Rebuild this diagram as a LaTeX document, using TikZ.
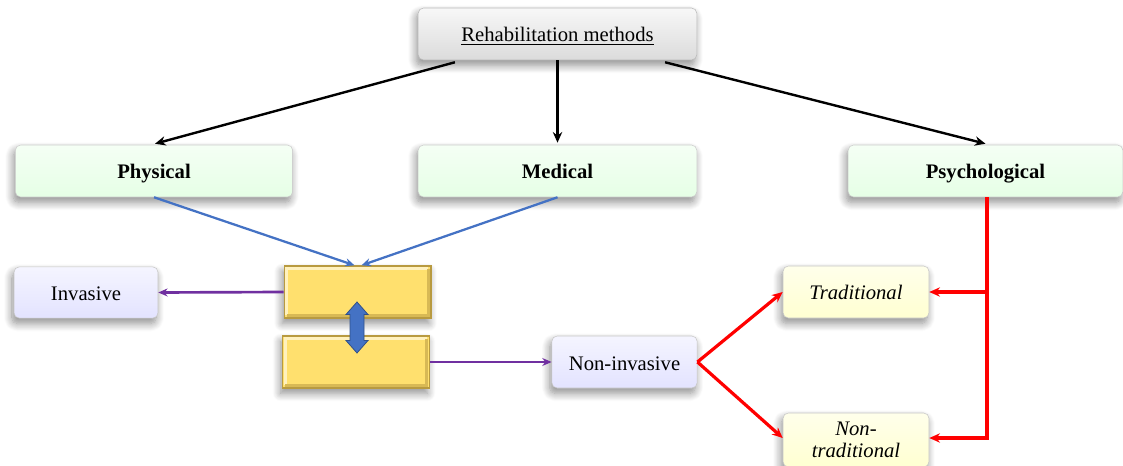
\documentclass[tikz,border=0pt]{standalone}
\usepackage{fontspec}
\setmainfont{Liberation Serif}
\usetikzlibrary{arrows.meta,shadows.blur,calc}
\definecolor{linkblue}{HTML}{4472C4}
\definecolor{linkpurple}{HTML}{7030A0}
\definecolor{linkred}{HTML}{FF0000}
\definecolor{goldfill}{HTML}{FFE06E}
\definecolor{goldedge}{HTML}{B89A40}
\tikzset{
  softshadow/.style={blur shadow={shadow xshift=-1.5pt, shadow yshift=-4pt, shadow blur steps=10, shadow blur radius=6pt, shadow opacity=45}},
  basebox/.style={rectangle, rounded corners=4pt, inner sep=2pt, align=center,
    font=\fontsize{15.5}{17}\selectfont, text=black, text height=13pt, text depth=1pt,
    softshadow},
  greybox/.style={basebox, draw=gray!55, top color=gray!6, bottom color=gray!28,
    minimum width=209pt, minimum height=39pt},
  greenbox/.style={basebox, draw=gray!40, top color=green!4!white, bottom color=green!10!white,
    minimum width=208pt, minimum height=39pt, font=\fontsize{15.5}{17}\selectfont\bfseries},
  lavbox/.style={basebox, draw=gray!45, top color=blue!4!white, bottom color=blue!11!white,
    minimum width=108pt, minimum height=38.5pt},
  creambox/.style={basebox, draw=gray!45, top color=yellow!8!white, bottom color=yellow!18!white,
    minimum width=109.5pt, minimum height=39pt, font=\fontsize{15.5}{17}\selectfont\itshape},
  goldbox/.style={rectangle, draw=goldedge, line width=1pt, fill=goldfill,
    minimum width=110pt, minimum height=39pt, softshadow,
    path picture={
      \draw[goldfill!45!white, line width=2.2pt]
        ([shift={(2pt,2pt)}]path picture bounding box.south west) |-
        ([shift={(-2pt,-2pt)}]path picture bounding box.north east);
      \draw[goldedge!55!goldfill, line width=2.2pt]
        ([shift={(2pt,2pt)}]path picture bounding box.south west) -|
        ([shift={(-2pt,-2pt)}]path picture bounding box.north east);
    }},
  blackarrow/.style={-{Stealth[length=8pt,width=7pt]}, line width=1.8pt, black},
  bluearrow/.style={-{Stealth[length=7pt,width=6pt]}, line width=1.7pt, linkblue},
  purplearrow/.style={-{Stealth[length=7pt,width=6pt]}, line width=2pt, linkpurple},
  redarrow/.style={-{Stealth[length=8pt,width=7pt]}, line width=2.4pt, linkred},
}
\begin{document}
\begin{tikzpicture}[x=0.75pt, y=-0.75pt]
\useasboundingbox (0,0) rectangle (1123,466);

% top level
\node[greybox] (rehab) at (557.5,34) {\underline{Rehabilitation methods}};

% three method groups
\node[greenbox] (physical) at (154,171) {Physical};
\node[greenbox, minimum width=209pt] (medical) at (557.5,171) {Medical};
\node[greenbox, minimum width=206pt] (psych) at (985.5,171) {Psychological};

% intervention blocks
\node[goldbox] (gtop) at (357.5,292) {};
\node[goldbox] (gbot) at (356,362) {};
\node[lavbox] (invasive) at (86,292.5) {Invasive};
\node[lavbox, minimum width=109pt, minimum height=39pt] (noninv) at (624.5,362) {Non-invasive};

% psychological approaches
\node[creambox] (trad) at (856,292) {Traditional};
\node[creambox, minimum height=40.5pt, text height=, text depth=] (nontrad) at (856,440) {Non-\\traditional};

% two-way block arrow between the gold blocks
\coordinate (swap) at (357,327.5);
\fill[linkblue, draw=linkblue!70!black, line width=0.6pt, line join=miter]
  ($(swap)+(0,-25.5)$) -- ($(swap)+(11,-13)$) -- ($(swap)+(7,-13)$) -- ($(swap)+(7,13)$)
  -- ($(swap)+(11,13)$) -- ($(swap)+(0,25.5)$) -- ($(swap)+(-11,13)$) -- ($(swap)+(-7,13)$)
  -- ($(swap)+(-7,-13)$) -- ($(swap)+(-11,-13)$) -- cycle;

% branches from the top node
\draw[blackarrow] ($(rehab.south west)+(37,2)$) -- ($(physical.north)+(1,-1)$);
\draw[blackarrow] (rehab.south) -- ($(medical.north)+(0,-2)$);
\draw[blackarrow] ($(rehab.south east)+(-32,2)$) -- ($(psych.north)+(0,-1)$);

% physical and medical feed the gold block
\draw[bluearrow] (physical.south) -- ($(gtop.north)+(-3,0)$);
\draw[bluearrow] (medical.south) -- ($(gtop.north)+(4,0)$);

% gold blocks to invasive / non-invasive
\draw[purplearrow] (gtop.west) -- (invasive.east);
\draw[purplearrow] (gbot.east) -- (noninv.west);

% non-invasive splits into the two approaches
\draw[redarrow] (noninv.east) -- (trad.west);
\draw[redarrow] (noninv.east) -- ($(nontrad.west)+(0,-2)$);

% psychological feeds both approaches from the right
\coordinate (pdrop) at ($(psych.south)+(1.5,0)$);
\draw[redarrow] (pdrop) |- ($(nontrad.east)+(0,-2)$);
\draw[redarrow] (pdrop |- trad.east) -- (trad.east);
\end{tikzpicture}
\end{document}
